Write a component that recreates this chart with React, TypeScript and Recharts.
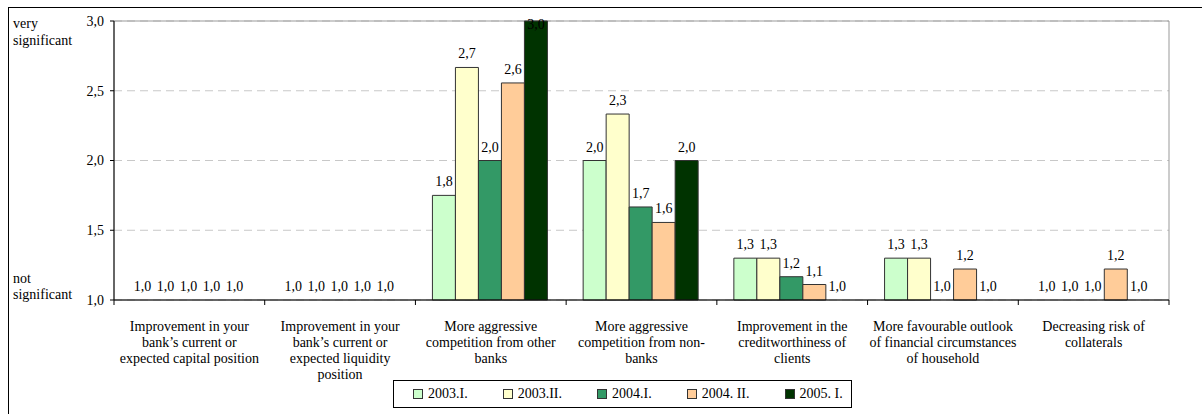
import React from "react";
import {
  BarChart,
  Bar,
  XAxis,
  YAxis,
  CartesianGrid,
  ReferenceArea,
  LabelList,
  Legend,
  Rectangle,
} from "recharts";

const categories = [
  "Improvement in your\nbank’s current or\nexpected capital position",
  "Improvement in your\nbank’s current or\nexpected liquidity\nposition",
  "More aggressive\ncompetition from other\nbanks",
  "More aggressive\ncompetition from non-\nbanks",
  "Improvement in the\ncreditworthiness of\nclients",
  "More favourable outlook\nof financial circumstances\nof household",
  "Decreasing risk of\ncollaterals",
];

const s2003I = [1, 1, 1.75, 2, 1.3, 1.3, 1];
const s2003II = [1, 1, 2.667, 2.333, 1.3, 1.3, 1];
const s2004I = [1, 1, 2, 1.667, 1.167, 1, 1];
const s2004II = [1, 1, 2.556, 1.556, 1.111, 1.222, 1.222];
const s2005I = [1, 1, 3, 2, 1, 1, 1];

const yTicks = [1, 1.5, 2, 2.5, 3];

const series = [
  { key: "a", name: "2003.I.", values: s2003I, color: "#ccffcc" },
  { key: "b", name: "2003.II.", values: s2003II, color: "#ffffcc" },
  { key: "c", name: "2004.I.", values: s2004I, color: "#339966" },
  { key: "d", name: "2004. II.", values: s2004II, color: "#ffcc99" },
  { key: "e", name: "2005. I.", values: s2005I, color: "#003300" },
];

const data = categories.map((cat, i) => {
  const row: any = { cat };
  series.forEach((s) => (row[s.key] = s.values[i]));
  return row;
});

const FONT = "'Liberation Serif', 'Times New Roman', serif";
const W = 1190;
const H = 400;
const MARGIN = { top: 13, right: 30, bottom: 0, left: 0 };
const Y_WIDTH = 105;
const PLOT_W = W - MARGIN.left - MARGIN.right - Y_WIDTH;
const PLOT_BOTTOM = MARGIN.top + 279;
const STEP = PLOT_W / categories.length;

const fmt = (v: number) => v.toFixed(1).replace(".", ",");

// bars at the 1,0 baseline get a 1px stub so their labels still render; the stub itself is not drawn
function BarShape(props: any) {
  if (props.height < 1.5) return null;
  return <Rectangle {...props} />;
}

function ValueLabel(props: any) {
  const { x, y, width, height, value } = props;
  const top = height < 1.5 ? PLOT_BOTTOM : y;
  // keep the top label inside the plot
  const baseline = Math.max(top - 9, MARGIN.top + 8);
  return (
    <text
      x={x + width / 2}
      y={baseline}
      textAnchor="middle"
      fontFamily={FONT}
      fontSize={14}
      fill="#000"
    >
      {fmt(value)}
    </text>
  );
}

function YTick(props: any) {
  const { x, y, payload } = props;
  const v = payload.value;
  return (
    <g fontFamily={FONT} fontSize={14} fill="#000">
      <text x={x} y={y} dy="0.35em" textAnchor="end">
        {fmt(v)}
      </text>
      {v === 3 && (
        <>
          <text x={4} y={y + 7}>very</text>
          <text x={4} y={y + 24}>significant</text>
        </>
      )}
      {v === 1 && (
        <>
          <text x={4} y={y - 17}>not</text>
          <text x={4} y={y - 1}>significant</text>
        </>
      )}
    </g>
  );
}

function XTick(props: any) {
  const { x, y, payload, index } = props;
  const lines = String(payload.value).split("\n");
  const left = x - STEP / 2;
  const right = x + STEP / 2;
  return (
    <g>
      <line x1={left} x2={left} y1={y} y2={y + 5} stroke="#000" />
      {index === categories.length - 1 && (
        <line x1={right} x2={right} y1={y} y2={y + 5} stroke="#000" />
      )}
      {lines.map((ln, i) => (
        <text
          key={i}
          x={x}
          y={y + 31 + i * 16}
          textAnchor="middle"
          fontFamily={FONT}
          fontSize={14}
          fill="#000"
        >
          {ln}
        </text>
      ))}
    </g>
  );
}

function LegendBox(props: any) {
  const items = [...(props.payload || [])].sort(
    (p: any, q: any) =>
      series.findIndex((s) => s.name === p.value) -
      series.findIndex((s) => s.name === q.value)
  );
  return (
    <div
      style={{
        display: "flex",
        alignItems: "center",
        gap: 35,
        height: 28,
        boxSizing: "border-box",
        border: "1px solid #000",
        padding: "0 8px 0 19px",
        background: "#fff",
        fontFamily: FONT,
        fontSize: 14,
        color: "#000",
        whiteSpace: "nowrap",
      }}
    >
      {items.map((p: any) => (
        <span key={p.value} style={{ display: "flex", alignItems: "center" }}>
          <span
            style={{
              display: "inline-block",
              width: 8,
              height: 8,
              background: p.color,
              border: "1px solid #333",
              marginRight: 5,
            }}
          />
          {p.value}
        </span>
      ))}
    </div>
  );
}

export default function App() {
  return (
    <div
      style={{
        position: "fixed",
        left: 8,
        top: 7,
        width: 1200,
        height: 420,
        border: "1px solid #000",
        background: "#fff",
        overflow: "hidden",
      }}
    >
      <BarChart
        width={W}
        height={H}
        data={data}
        margin={MARGIN}
        barCategoryGap={17}
        barGap={0}
      >
        <CartesianGrid
          vertical={false}
          stroke="#c8c8c8"
          strokeDasharray="8 5"
        />
        <ReferenceArea y1={1} y2={3} fill="none" stroke="#999" />
        <XAxis
          dataKey="cat"
          interval={0}
          height={H - PLOT_BOTTOM}
          tickLine={false}
          tickSize={0}
          tickMargin={0}
          axisLine={{ stroke: "#000" }}
          tick={<XTick />}
        />
        <YAxis
          domain={[1, 3]}
          ticks={yTicks}
          width={Y_WIDTH}
          tickSize={4}
          tickMargin={6}
          axisLine={{ stroke: "#000" }}
          tickLine={{ stroke: "#000" }}
          tick={<YTick />}
        />
        <Legend
          layout="horizontal"
          verticalAlign="middle"
          align="center"
          wrapperStyle={{ left: 384, top: 372, width: "auto" }}
          content={<LegendBox />}
        />
        {series.map((s) => (
          <Bar
            key={s.key}
            dataKey={s.key}
            name={s.name}
            fill={s.color}
            stroke="#333"
            strokeWidth={1}
            minPointSize={1}
            shape={<BarShape />}
            isAnimationActive={false}
          >
            <LabelList dataKey={s.key} content={<ValueLabel />} />
          </Bar>
        ))}
      </BarChart>
    </div>
  );
}
